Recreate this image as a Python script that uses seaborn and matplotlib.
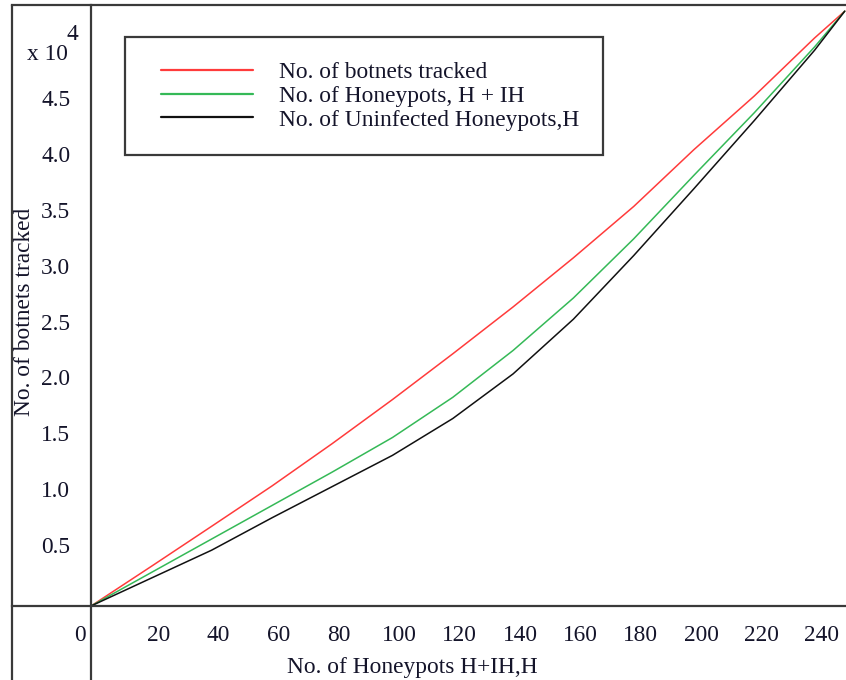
import numpy as np
import pandas as pd
import matplotlib.pyplot as plt
import matplotlib.transforms as mtransforms
from matplotlib.lines import Line2D
from matplotlib.patches import Rectangle
import seaborn as sns

# values, y in units of 10^4
honeypots = [0, 20, 40, 60, 80, 100, 120, 140, 160, 180, 200, 220, 240, 250]
botnets_tracked = [0, 0.355, 0.714, 1.075, 1.455, 1.85, 2.26, 2.68, 3.12, 3.58, 4.09, 4.57, 5.09, 5.33]
honeypots_h_ih = [0, 0.30, 0.60, 0.90, 1.20, 1.51, 1.87, 2.29, 2.76, 3.29, 3.86, 4.42, 5.01, 5.33]
uninfected_h = [0, 0.25, 0.50, 0.79, 1.07, 1.35, 1.68, 2.08, 2.57, 3.14, 3.74, 4.35, 4.98, 5.33]

series_names = ["No. of botnets tracked", "No. of Honeypots, H + IH", "No. of Uninfected Honeypots,H"]
series_colors = ["#ff3b3b", "#35b957", "#111111"]

x_ticks = [0, 20, 40, 60, 80, 100, 120, 140, 160, 180, 200, 220, 240]
y_ticks = [0.5, 1.0, 1.5, 2.0, 2.5, 3.0, 3.5, 4.0, 4.5]

text_color = "#14142a"
frame_color = "#3a3a3a"
fs = 16.8


def build_frame():
    df = pd.DataFrame({"H": honeypots})
    df[series_names[0]] = botnets_tracked
    df[series_names[1]] = honeypots_h_ih
    df[series_names[2]] = uninfected_h
    df = df.melt(id_vars="H", var_name="series", value_name="botnets")
    return df


def draw(df):
    sns.set_style("white")
    plt.rcParams["font.family"] = ["Liberation Serif", "DejaVu Serif"]

    fig = plt.figure(figsize=(8.46, 6.8), dpi=100)
    ax = fig.add_axes([12 / 846, 0, 834 / 846, 675 / 680])

    sns.lineplot(ax=ax, data=df, x="H", y="botnets", hue="series",
                 hue_order=series_names, palette=series_colors, linewidth=1.1, legend=False)

    # pixel scale of the original: 3.015 px per honeypot, 111.6 px per 10^4
    ax.set_xlim((12 - 91) / 3.015, (846 - 91) / 3.015)
    ax.set_ylim((606 - 680) / 111.6, (606 - 5) / 111.6)

    for side in ["left", "bottom"]:
        ax.spines[side].set_position(("data", 0))
        ax.spines[side].set_color(frame_color)
        ax.spines[side].set_linewidth(1.6)
    ax.spines["right"].set_visible(False)
    ax.spines["top"].set_color(frame_color)
    ax.spines["top"].set_linewidth(1.6)
    ax.add_line(Line2D([0, 0], [0, 1], transform=ax.transAxes, color=frame_color,
                       linewidth=1.6, clip_on=False))

    ax.set_xticks(x_ticks)
    ax.set_xticklabels([str(v) for v in x_ticks])
    ax.set_yticks(y_ticks)
    ax.set_yticklabels([f"{v:.1f}" for v in y_ticks])
    ax.tick_params(axis="x", length=0, pad=13.5, labelsize=fs, labelcolor=text_color)
    ax.tick_params(axis="y", length=0, pad=15, labelsize=fs, labelcolor=text_color)

    # the original labels sit a few pixels off their ticks
    for lab, v in zip(ax.get_xticklabels(), x_ticks):
        dx = -0.11 if v == 0 else 0.07
        lab.set_transform(lab.get_transform() + mtransforms.ScaledTranslation(dx, 0, fig.dpi_scale_trans))
    for lab in ax.get_yticklabels():
        lab.set_transform(lab.get_transform() + mtransforms.ScaledTranslation(0, 0.055, fig.dpi_scale_trans))

    ax.set_xlabel("No. of Honeypots H+IH,H", fontsize=fs, color=text_color)
    ax.xaxis.label.set_va("center")
    ax.xaxis.set_label_coords((412 - 12) / 834, (680 - 668) / 675)
    ax.set_ylabel("No. of botnets tracked", fontsize=fs, color=text_color)
    ax.yaxis.label.set_va("center")
    ax.yaxis.set_label_coords((25 - 12) / 834, (680 - 312) / 675)

    fig.text(27 / 846, 1 - 55 / 680, "x 10", fontsize=fs, color=text_color, ha="left", va="center")
    fig.text(66 / 846, 1 - 34 / 680, "4", fontsize=fs, color=text_color, ha="left", va="center")

    handles = [Line2D([], [], color=c, linewidth=1.6) for c in series_colors]
    ax.legend(handles, series_names, loc="upper left", bbox_to_anchor=(161 / 846, 1 - 62 / 680),
              bbox_transform=fig.transFigure, frameon=False, borderpad=0, borderaxespad=0,
              handlelength=3.95, handletextpad=1.1, labelspacing=0.1, fontsize=fs,
              labelcolor=text_color)
    fig.add_artist(Rectangle((125 / 846, 1 - 155 / 680), 478 / 846, 118 / 680,
                             transform=fig.transFigure, fill=False, edgecolor=frame_color, linewidth=1.6))

    fig.savefig("out.png", dpi=100, facecolor="white")


def main():
    df = build_frame()
    draw(df)


main()
